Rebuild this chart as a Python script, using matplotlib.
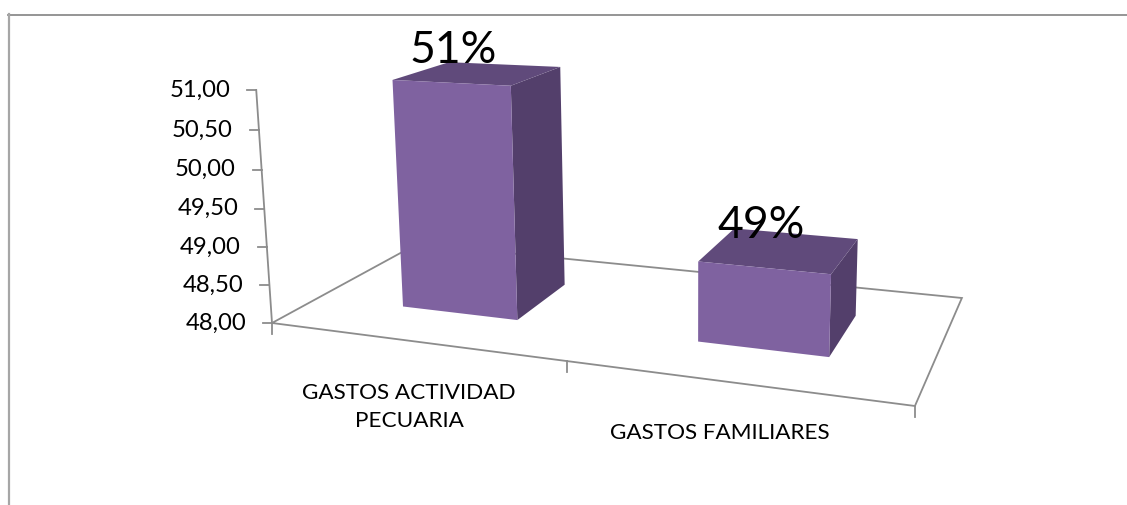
import numpy as np
import matplotlib
matplotlib.use("Agg")
import matplotlib.pyplot as plt
from matplotlib.patches import Polygon

# chart values
categories = ["GASTOS ACTIVIDAD\nPECUARIA", "GASTOS FAMILIARES"]
values = [51.0, 49.0]
percent_labels = ["51%", "49%"]
y_ticks = [48.0, 48.5, 49.0, 49.5, 50.0, 50.5, 51.0]
y_tick_labels = ["48,00", "48,50", "49,00", "49,50", "50,00", "50,50", "51,00"]

plt.rcParams['font.family'] = ['Lato', 'DejaVu Sans']

W, H = 1127, 505
Y_MIN = 48.0

# projection of the 3d box (u along categories, w into the depth, v value)
# found from the floor corners and the lean of the vertical edges
P = np.array([
    [486.1, 226.1, 690.0 * -0.01212, 272.0],
    [13.4, -31.5, 6500.0 * -0.01212, 323.0],
    [-0.1714, 0.1946, -0.01212, 1.0],
])


def proj(u, w, v):
    x, y, z = P @ np.array([u, w, v - Y_MIN, 1.0])
    return x / z, y / z


fig = plt.figure(figsize=(W / 100, H / 100), dpi=100)
ax = fig.add_axes([0, 0, 1, 1])
ax.set_xlim(0, W)
ax.set_ylim(H, 0)
ax.axis('off')

GRAY = '#8c8c8c'

# outer frame of the chart (only top and left are visible)
ax.plot([8, 1127], [14.5, 14.5], color=GRAY, lw=1.3)
ax.plot([8.5, 8.5], [14, 505], color='#a6a6a6', lw=1.6)

# floor
floor = [proj(0, 0, Y_MIN), proj(1, 0, Y_MIN), proj(1, 1, Y_MIN), proj(0, 1, Y_MIN)]
ax.add_patch(Polygon(floor, closed=True, fill=False, edgecolor=GRAY, lw=1.3, zorder=1))

# value axis with ticks
bottom = proj(0, 0, y_ticks[0])
top = proj(0, 0, y_ticks[-1])
ax.plot([bottom[0], top[0]], [bottom[1], top[1]], color=GRAY, lw=1.3, zorder=1)
for t, lab in zip(y_ticks, y_tick_labels):
    x, y = proj(0, 0, t)
    ax.plot([x - 9, x], [y, y], color=GRAY, lw=1.3, zorder=1)
    ax.text(x - 26, y, lab, ha='right', va='center', fontsize=17.2, color='black')

# category ticks
for u in [0, 0.505, 1]:
    x, y = proj(u, 0, Y_MIN)
    ax.plot([x, x], [y, y + 11], color=GRAY, lw=1.3, zorder=1)

# bars
bar_centers = [0.26, 0.758]
bar_widths = [0.205, 0.197]
w0, w1 = 0.295, 0.7
FRONT = '#7f62a0'
TOP = '#604a7b'
SIDE = '#533f6b'
for c, bw, val in zip(bar_centers, bar_widths, values):
    u0, u1 = c - bw / 2, c + bw / 2
    side = [proj(u1, w0, Y_MIN), proj(u1, w1, Y_MIN), proj(u1, w1, val), proj(u1, w0, val)]
    roof = [proj(u0, w0, val), proj(u1, w0, val), proj(u1, w1, val), proj(u0, w1, val)]
    front = [proj(u0, w0, Y_MIN), proj(u1, w0, Y_MIN), proj(u1, w0, val), proj(u0, w0, val)]
    ax.add_patch(Polygon(side, closed=True, fc=SIDE, ec='none', zorder=2))
    ax.add_patch(Polygon(roof, closed=True, fc=TOP, ec='none', zorder=2))
    ax.add_patch(Polygon(front, closed=True, fc=FRONT, ec='none', zorder=2))

# data labels sit on top of the bars, nudged by hand
label_nudge = [(3, -2), (-2, 4)]
for c, val, lab, (dx, dy) in zip(bar_centers, values, percent_labels, label_nudge):
    x = proj(c, w0, val)[0]
    y = proj(c, w1, val)[1]
    ax.text(x + dx, y + dy, lab, ha='center', va='baseline', fontsize=32, color='black', zorder=3)

# category labels
ax.text(409, 407, categories[0], ha='center', va='center', fontsize=16.2, color='black', linespacing=1.5)
ax.text(720, 433, categories[1], ha='center', va='center', fontsize=16.2, color='black')

fig.savefig("out.png", dpi=100)
